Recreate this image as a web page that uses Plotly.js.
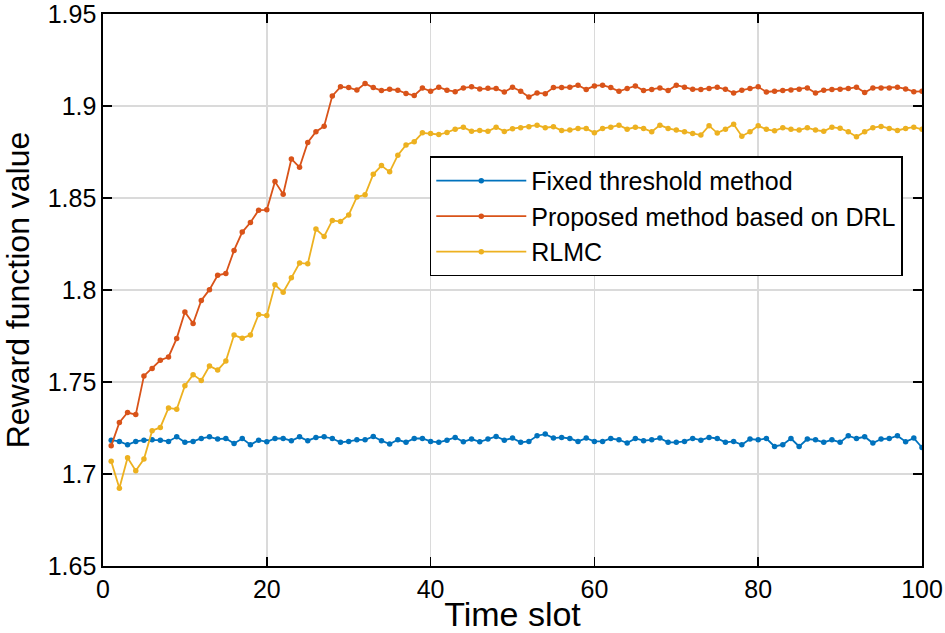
<!DOCTYPE html>
<html>
<head>
<meta charset="utf-8">
<script src="https://cdn.plot.ly/plotly-3.0.1.min.js"></script>
<style>html,body{margin:0;padding:0;background:#fff;}#chart{width:945px;height:633px;}</style>
</head>
<body>
<div id="chart"></div>
<script>
const timeSlots = [1,2,3,4,5,6,7,8,9,10,11,12,13,14,15,16,17,18,19,20,21,22,23,24,25,26,27,28,29,30,31,32,33,34,35,36,37,38,39,40,41,42,43,44,45,46,47,48,49,50,51,52,53,54,55,56,57,58,59,60,61,62,63,64,65,66,67,68,69,70,71,72,73,74,75,76,77,78,79,80,81,82,83,84,85,86,87,88,89,90,91,92,93,94,95,96,97,98,99,100];

const fixedThreshold = [1.7184,1.7177,1.7159,1.7177,1.7184,1.7186,1.7184,1.7177,1.7202,1.7172,1.7177,1.7193,1.7202,1.719,1.7193,1.7166,1.7193,1.7159,1.7184,1.7175,1.7193,1.7193,1.7181,1.7202,1.7181,1.7199,
1.7202,1.7193,1.7172,1.7177,1.7186,1.7186,1.7204,1.7181,1.7163,1.7186,1.7172,1.7193,1.7193,1.7177,1.7172,1.7184,1.7199,1.7175,1.719,1.7175,1.719,1.7204,1.7184,1.7195,1.7172,1.7177,1.7208,1.7217,1.7195,1.7199,1.7193,1.7177,1.7195,1.7177,1.7177,1.7193,
1.7186,1.7168,1.7193,1.7181,1.7186,1.7195,1.7172,1.7172,1.7177,1.7193,1.7184,1.7199,1.7193,1.7172,1.7177,1.7159,1.719,1.7186,1.7193,1.715,1.7159,1.7193,1.715,1.719,1.7186,1.7172,1.7186,1.7172,1.7208,1.7193,1.7202,1.7168,1.719,1.7193,1.7208,1.7175,1.7195,1.7144];

const proposedDRL = [1.7153,1.728,1.7334,1.7323,1.7533,1.7574,1.7618,1.7636,1.7737,1.7881,1.7818,1.7943,1.8002,1.808,1.809,1.8215,1.8315,1.8367,1.8434,1.8436,
1.8589,1.852,1.8712,1.8667,1.8802,1.886,1.889,1.9055,1.9104,1.91,1.9087,1.9122,1.91,1.9084,1.9091,1.9086,1.9068,1.9057,1.9098,1.908,
1.9102,1.9086,1.9078,1.9098,1.9104,1.9093,1.9096,1.9095,1.9076,1.9102,1.908,1.9049,1.9071,1.9067,1.91,1.91,1.9102,1.9113,1.909,1.9109,
1.9113,1.91,1.908,1.9095,1.9109,1.9084,1.909,1.9098,1.9084,1.9113,1.9102,1.9091,1.909,1.9095,1.9102,1.9091,1.907,1.9086,1.9095,1.9104,
1.9076,1.908,1.9084,1.9087,1.9091,1.9098,1.9071,1.9086,1.909,1.9091,1.9095,1.9102,1.9073,1.9098,1.9098,1.9098,1.9102,1.9093,1.9078,1.908];

const rlmc = [1.7069,1.6922,1.7088,1.7018,1.7081,1.7235,1.7253,1.7359,1.7352,1.748,1.754,1.7508,1.7587,1.7565,1.7614,1.7755,1.7738,1.7755,1.7867,1.7861,
1.8028,1.7988,1.8066,1.8147,1.8142,1.8331,1.8291,1.8378,1.8372,1.8408,1.8506,1.8517,1.8629,1.8676,1.8642,1.8733,1.8788,1.8806,1.8854,1.8851,
1.8845,1.8856,1.8874,1.8885,1.8863,1.8867,1.8863,1.8885,1.8862,1.8877,1.8882,1.8887,1.8896,1.8882,1.8887,1.8867,1.8869,1.8878,1.8878,1.8854,
1.8878,1.8885,1.8896,1.8874,1.8885,1.8878,1.886,1.8896,1.8878,1.8869,1.886,1.8851,1.8842,1.8893,1.8853,1.8874,1.8901,1.8836,1.886,1.8892,
1.8873,1.8865,1.8882,1.8873,1.8869,1.8882,1.8869,1.8863,1.8885,1.8879,1.886,1.8833,1.886,1.8882,1.8889,1.8878,1.8867,1.8878,1.8885,1.8873];

const xTicks = [0, 20, 40, 60, 80, 100];
const yTicks = [1.65, 1.7, 1.75, 1.8, 1.85, 1.9, 1.95];
const yTickText = ['1.65', '1.7', '1.75', '1.8', '1.85', '1.9', '1.95'];

const seriesNames = ['Fixed threshold method', 'Proposed method based on DRL', 'RLMC'];
const seriesColors = ['#0072BD', '#D95319', '#EDB120'];
const seriesData = [fixedThreshold, proposedDRL, rlmc];

const FONT = 'Liberation Sans, Arial, Helvetica, sans-serif';

const traces = seriesData.map((d, k) => ({
  x: timeSlots, y: d, type: 'scatter', mode: 'lines+markers', name: seriesNames[k],
  line: {color: seriesColors[k], width: 1.8},
  marker: {color: seriesColors[k], size: 5.5}
}));

const axisCommon = {
  showline: true, linecolor: '#000', linewidth: 1.6, mirror: 'allticks',
  ticks: 'inside', ticklen: 9, tickwidth: 1.6, tickcolor: '#000',
  showgrid: true, gridcolor: '#dadada', gridwidth: 1.6, zeroline: false,
  ticklabeloverflow: 'allow',
  tickfont: {family: FONT, size: 25, color: '#000'}
};

const layout = {
  width: 945, height: 633,
  margin: {l: 103, r: 23, t: 14, b: 67},
  paper_bgcolor: '#fff', plot_bgcolor: '#fff',
  font: {family: FONT, color: '#000'},
  xaxis: Object.assign({}, axisCommon, {
    range: [0, 100], tickvals: xTicks,
    title: {text: 'Time slot', font: {size: 34, family: FONT, color: '#000'}, standoff: 2}
  }),
  yaxis: Object.assign({}, axisCommon, {
    range: [1.65, 1.95], tickvals: yTicks, ticktext: yTickText,
    title: {text: 'Reward function value', font: {size: 32, family: FONT, color: '#000'}, standoff: 8}
  }),
  legend: {
    x: 0.399, y: 0.742, xanchor: 'left', yanchor: 'top',
    bgcolor: '#fff', bordercolor: '#000', borderwidth: 1.5,
    font: {size: 25, family: FONT, color: '#000'},
    itemwidth: 90, tracegroupgap: 0
  },
  showlegend: true
};

Plotly.newPlot('chart', traces, layout, {displayModeBar: false, staticPlot: true});
</script>
</body>
</html>
